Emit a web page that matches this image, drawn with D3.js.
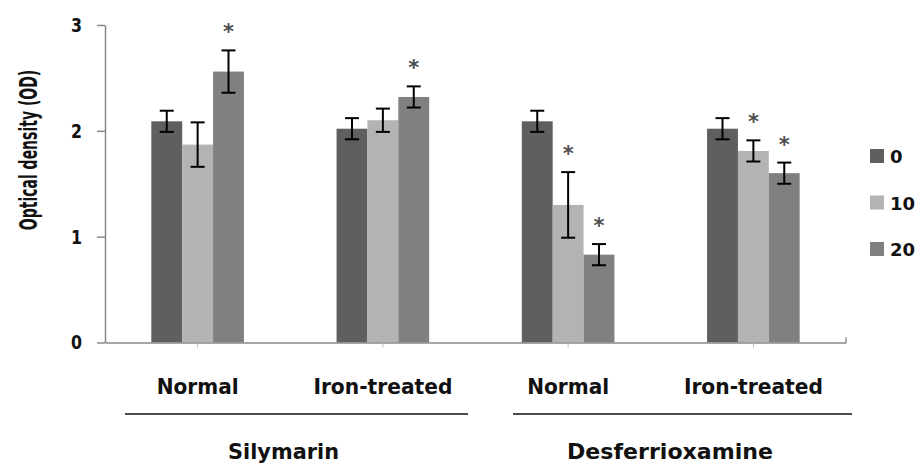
<!DOCTYPE html>
<html>
<head>
<meta charset="utf-8">
<script src="https://cdn.jsdelivr.net/npm/d3@7"></script>
<style>
  body { margin: 0; background: #fff; }
  text { font-family: "DejaVu Sans", sans-serif; font-weight: bold; fill: #111; }
</style>
</head>
<body>
<svg id="chart" width="917" height="464"></svg>
<script>
// data
var categories = ["Normal", "Iron-treated", "Normal", "Iron-treated"];
var groups = ["Silymarin", "Desferrioxamine"];
var series = ["0", "10", "20"];
var values0 = [2.09, 2.02, 2.09, 2.02];
var values10 = [1.87, 2.10, 1.30, 1.81];
var values20 = [2.56, 2.32, 0.83, 1.60];
var err0 = [0.10, 0.10, 0.10, 0.10];
var err10 = [0.21, 0.11, 0.31, 0.10];
var err20 = [0.20, 0.10, 0.10, 0.10];
var star0 = [false, false, false, false];
var star10 = [false, false, true, true];
var star20 = [true, true, true, true];
var yTicks = [0, 1, 2, 3];

var colors = ["#5f5f5f", "#b3b3b3", "#808080"];
var vals = [values0, values10, values20];
var errs = [err0, err10, err20];
var stars = [star0, star10, star20];

var svg = d3.select("#chart");

var x = d3.scaleBand().domain(d3.range(categories.length)).range([105, 846]);
var y = d3.scaleLinear().domain([0, 3]).range([342.5, 25]);
var xs = d3.scaleBand().domain(series).range([0, x.bandwidth() * 0.5]);
var groupOffset = (x.bandwidth() - xs.range()[1]) / 2;

// bars
var rows = [];
categories.forEach(function(c, i) {
    series.forEach(function(s, j) {
        rows.push({ cat: i, s: s, j: j, v: vals[j][i], e: errs[j][i], star: stars[j][i] });
    });
});

var bx = function(d) { return x(d.cat) + groupOffset + xs(d.s); };

svg.selectAll("rect.bar").data(rows).enter().append("rect")
    .attr("class", "bar")
    .attr("x", bx)
    .attr("width", xs.bandwidth())
    .attr("y", function(d) { return y(d.v); })
    .attr("height", function(d) { return y(0) - y(d.v); })
    .attr("fill", function(d) { return colors[d.j]; });

// error bars
var eb = svg.selectAll("g.err").data(rows).enter().append("g")
    .attr("class", "err")
    .attr("stroke", "#000")
    .attr("stroke-width", 2);
var cx = function(d) { return bx(d) + xs.bandwidth() / 2; };
eb.append("line")
    .attr("x1", cx).attr("x2", cx)
    .attr("y1", function(d) { return y(d.v + d.e); })
    .attr("y2", function(d) { return y(d.v - d.e); });
eb.append("line")
    .attr("x1", function(d) { return cx(d) - 7; }).attr("x2", function(d) { return cx(d) + 7; })
    .attr("y1", function(d) { return y(d.v + d.e); })
    .attr("y2", function(d) { return y(d.v + d.e); });
eb.append("line")
    .attr("x1", function(d) { return cx(d) - 7; }).attr("x2", function(d) { return cx(d) + 7; })
    .attr("y1", function(d) { return y(d.v - d.e); })
    .attr("y2", function(d) { return y(d.v - d.e); });

// significance stars
svg.selectAll("text.star").data(rows.filter(function(d) { return d.star; })).enter().append("text")
    .attr("class", "star")
    .attr("x", cx)
    .attr("y", function(d) { return y(d.v + d.e) - 11; })
    .attr("text-anchor", "middle")
    .style("font-size", "21px")
    .style("fill", "#505050")
    .text("*");

// y axis
var yAxis = svg.append("g")
    .attr("transform", "translate(105,0)")
    .call(d3.axisLeft(y).tickValues(yTicks).tickFormat(d3.format("d")).tickSize(8).tickSizeOuter(0).tickPadding(15));
yAxis.select(".domain").attr("stroke", "#888").attr("stroke-width", 1.5);
yAxis.selectAll(".tick line").attr("stroke", "#888").attr("stroke-width", 1.5);
yAxis.selectAll(".tick text")
    .style("font-size", "20px")
    .style("font-family", "DejaVu Sans")
    .attr("fill", "#111")
    .attr("textLength", 11)
    .attr("lengthAdjust", "spacingAndGlyphs");

// x axis
var xAxis = svg.append("g")
    .attr("transform", "translate(0," + y(0) + ")")
    .call(d3.axisBottom(x).tickFormat("").tickSize(5).tickSizeOuter(0));
xAxis.select(".domain").attr("stroke", "#888").attr("stroke-width", 1.5);
xAxis.selectAll(".tick line").attr("stroke", "#bbb").attr("stroke-width", 1);
xAxis.append("line")
    .attr("x1", x.range()[1]).attr("x2", x.range()[1])
    .attr("y1", -5).attr("y2", 0)
    .attr("stroke", "#888").attr("stroke-width", 1.5);

// category labels
var catWidths = { "Normal": 82, "Iron-treated": 139 };
svg.selectAll("text.cat").data(categories).enter().append("text")
    .attr("class", "cat")
    .attr("x", function(d, i) { return x(i) + x.bandwidth() / 2; })
    .attr("y", 394)
    .attr("text-anchor", "middle")
    .style("font-size", "22px")
    .attr("textLength", function(d) { return catWidths[d]; })
    .attr("lengthAdjust", "spacingAndGlyphs")
    .text(function(d) { return d; });

// group lines and labels
var groupLines = [[125, 468], [513, 852]];
var groupCenters = [283.5, 670];
var groupWidths = [111, 206];
svg.selectAll("line.grp").data(groups).enter().append("line")
    .attr("class", "grp")
    .attr("x1", function(d, i) { return groupLines[i][0]; })
    .attr("x2", function(d, i) { return groupLines[i][1]; })
    .attr("y1", 414).attr("y2", 414)
    .attr("stroke", "#111").attr("stroke-width", 1.5);
svg.selectAll("text.grp").data(groups).enter().append("text")
    .attr("class", "grp")
    .attr("x", function(d, i) { return groupCenters[i]; })
    .attr("y", 459)
    .attr("text-anchor", "middle")
    .style("font-size", "22px")
    .attr("textLength", function(d, i) { return groupWidths[i]; })
    .attr("lengthAdjust", "spacingAndGlyphs")
    .text(function(d) { return d; });

// y label (glyphs stretched across the line, as in the original)
svg.append("text")
    .attr("transform", "translate(37,150) rotate(-90) scale(1,1.75)")
    .attr("text-anchor", "middle")
    .style("font-size", "14px")
    .text("Optical density (OD)");

// legend
var legend = svg.selectAll("g.leg").data(series).enter().append("g")
    .attr("class", "leg")
    .attr("transform", function(d, i) { return "translate(870," + (149 + i * 46.5) + ")"; });
legend.append("rect")
    .attr("width", 14).attr("height", 14)
    .attr("fill", function(d, i) { return colors[i]; });
legend.append("text")
    .attr("x", 20).attr("y", 14)
    .style("font-size", "18px")
    .text(function(d) { return d; });
</script>
</body>
</html>
